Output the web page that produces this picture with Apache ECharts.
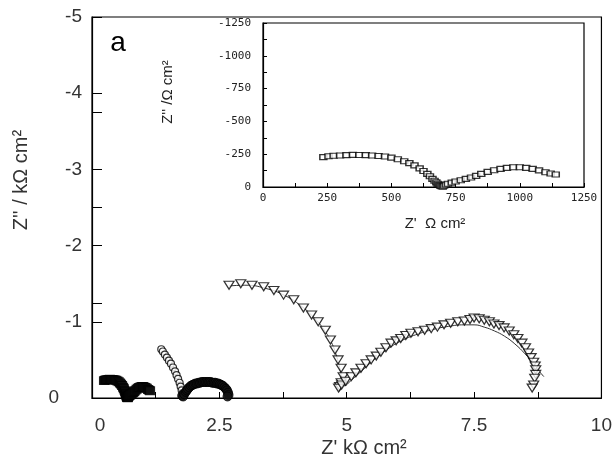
<!DOCTYPE html>
<html>
<head>
<meta charset="utf-8">
<script src="https://cdn.jsdelivr.net/npm/echarts@6/dist/echarts.min.js"></script>
<style>
  html, body { margin: 0; padding: 0; background: #fff; }
  #chart { width: 615px; height: 466px; }
</style>
</head>
<body>
<div id="chart"></div>
<script>
// inset data, Ohm cm2 (open squares) - same run is drawn in kOhm on the main plot
const sqX = [235, 255, 275, 300, 325, 350, 375, 400, 425, 450, 475, 500, 525, 550, 570, 590, 610, 625, 640, 650, 660, 668, 675, 680, 685, 690, 695, 700,
  705, 712, 720, 735, 750, 770, 790, 810, 830, 850, 875, 900, 925, 950, 975, 1000, 1025, 1050, 1075, 1100, 1120, 1140];
const sqY = [-228, -234, -238, -240, -243, -245, -244, -243, -240, -236, -232, -224, -212, -196, -182, -165, -142, -122, -100, -82, -62, -48, -35, -25, -16, -10, -6, -3,
  -10, -18, -25, -33, -42, -52, -62, -72, -85, -100, -115, -128, -138, -146, -150, -150, -146, -138, -127, -112, -103, -95];

// open circles, kOhm cm2: steep high-frequency tail, then the dense low arc
const circArcX = [1.36, 1.39, 1.43, 1.47, 1.51, 1.55, 1.59, 1.63, 1.66, 1.69, 1.72, 1.74, 1.76, 1.78];
const circArcY = [-0.64, -0.61, -0.57, -0.53, -0.49, -0.45, -0.40, -0.35, -0.30, -0.25, -0.20, -0.15, -0.10, -0.06];
const circLowX = [1.77, 1.79, 1.81, 1.84, 1.86, 1.88, 1.91, 1.94, 1.97, 2.00, 2.03, 2.06, 2.09, 2.12, 2.15, 2.18, 2.21, 2.24, 2.27, 2.30, 2.33, 2.36, 2.39, 2.42, 2.45, 2.48, 2.51, 2.54, 2.57, 2.60, 2.63, 2.65, 2.67, 2.68, 2.66];
const circLowY = [-0.03, -0.02, -0.05, -0.08, -0.10, -0.12, -0.14, -0.16, -0.17, -0.18, -0.19, -0.19, -0.20, -0.20, -0.21, -0.21, -0.21, -0.21, -0.21, -0.21, -0.21, -0.20, -0.20, -0.20, -0.19, -0.19, -0.18, -0.17, -0.16, -0.14, -0.12, -0.10, -0.07, -0.04, -0.02];

// open down triangles, kOhm cm2
const triX = [2.69, 2.92, 3.14, 3.37, 3.57, 3.76, 3.96, 4.15, 4.31, 4.44, 4.58, 4.68, 4.77, 4.83, 4.89, 4.93, 4.89, 4.86, 4.84, 4.90, 4.98, 5.09, 5.18, 5.28, 5.38, 5.48, 5.58, 5.67, 5.77, 5.87, 5.97, 6.06, 6.16, 6.26, 6.40, 6.53, 6.66, 6.78, 6.91, 7.04, 7.18, 7.31, 7.42, 7.50, 7.60, 7.70, 7.80, 7.89, 7.99, 8.09, 8.19, 8.28, 8.36, 8.44, 8.51, 8.57, 8.62, 8.67, 8.70, 8.71, 8.71, 8.69, 8.67, 8.64];
const triY = [-1.48, -1.50, -1.48, -1.46, -1.41, -1.35, -1.29, -1.18, -1.09, -1.00, -0.89, -0.76, -0.63, -0.50, -0.39, -0.28, -0.20, -0.15, -0.13, -0.17, -0.22, -0.28, -0.33, -0.39, -0.45, -0.50, -0.55, -0.60, -0.66, -0.72, -0.75, -0.78, -0.82, -0.85, -0.87, -0.89, -0.91, -0.93, -0.96, -0.98, -1.00, -1.01, -1.03, -1.05, -1.04, -1.02, -1.00, -0.97, -0.95, -0.92, -0.88, -0.83, -0.78, -0.72, -0.66, -0.59, -0.53, -0.47, -0.42, -0.37, -0.31, -0.26, -0.17, -0.13];

// fitted curve through the triangles
const fitX = [2.69, 3.0, 3.4, 3.8, 4.1, 4.35, 4.55, 4.7, 4.8, 4.86, 4.9, 4.95, 5.1, 5.3, 5.5, 5.8, 6.1, 6.4, 6.7, 7.0, 7.3, 7.5, 7.7, 7.9, 8.1, 8.3, 8.5, 8.65, 8.78, 8.87];
const fitY = [-1.47, -1.48, -1.44, -1.34, -1.21, -1.06, -0.90, -0.73, -0.55, -0.40, -0.27, -0.16, -0.24, -0.36, -0.48, -0.64, -0.76, -0.84, -0.90, -0.94, -0.96, -0.96, -0.93, -0.88, -0.81, -0.71, -0.58, -0.46, -0.35, -0.28];

const zip = (xs, ys, k) => xs.map((x, i) => [x * (k || 1), ys[i] * (k || 1)]);

const chart = echarts.init(document.getElementById("chart"));

const mainFont = "'Liberation Sans', Arial, sans-serif";
const insetFont = "'DejaVu Sans Mono', monospace";

chart.setOption({
  animation: false,
  backgroundColor: "#fff",
  grid: [
    { left: 92, top: 17, right: 10, bottom: 68, show: true, borderColor: "#000", borderWidth: 1.2, backgroundColor: "transparent" },
    { left: 263, top: 23, right: 31, bottom: 279, show: true, borderColor: "#000", borderWidth: 1.2, backgroundColor: "#fff" },
  ],
  xAxis: [
    {
      gridIndex: 0,
      type: "value",
      min: 0,
      max: 10,
      interval: 2.5,
      axisLine: { lineStyle: { color: "#000", width: 1.2 } },
      axisTick: { inside: true, length: 6, lineStyle: { color: "#000" } },
      minorTick: { show: true, splitNumber: 2, length: 6, lineStyle: { color: "#000" } },
      splitLine: { show: false },
      axisLabel: {
        margin: 18,
        color: "#333",
        fontSize: 19,
        fontFamily: mainFont,
        formatter: (v) => (v === 0 ? "{z|0}" : String(v)),
        rich: { z: { padding: [0, 0, 0, 16], fontSize: 19, fontFamily: mainFont, color: "#333" } },
      },
    },
    {
      gridIndex: 1,
      type: "value",
      min: 0,
      max: 1250,
      interval: 250,
      axisLine: { lineStyle: { color: "#000", width: 1.2 } },
      axisTick: { inside: true, length: 4, lineStyle: { color: "#000" } },
      minorTick: { show: true, splitNumber: 2, length: 4, lineStyle: { color: "#000" } },
      splitLine: { show: false },
      axisLabel: { margin: 6, color: "#222", fontSize: 11, fontFamily: insetFont, formatter: (v) => String(v) },
    },
  ],
  yAxis: [
    {
      gridIndex: 0,
      type: "value",
      inverse: true,
      min: -5,
      max: 0,
      interval: 1,
      axisLine: { lineStyle: { color: "#000", width: 1.2 } },
      axisTick: { inside: true, length: 10, lineStyle: { color: "#000" } },
      splitLine: { show: false },
      axisLabel: {
        margin: 10,
        color: "#333",
        fontSize: 19,
        fontFamily: mainFont,
        formatter: (v) => (v === 0 ? "{z|0}" : String(v)),
        rich: { z: { padding: [0, 23, 0, 0], fontSize: 19, fontFamily: mainFont, color: "#333" } },
      },
    },
    {
      // extra tick marks every 1.25
      gridIndex: 0,
      type: "value",
      position: "left",
      inverse: true,
      min: -5,
      max: 0,
      interval: 1.25,
      axisLine: { show: false },
      axisTick: { inside: true, length: 10, lineStyle: { color: "#000" } },
      axisLabel: { show: false },
      splitLine: { show: false },
    },
    {
      gridIndex: 1,
      type: "value",
      inverse: true,
      min: -1250,
      max: 0,
      interval: 250,
      axisLine: { lineStyle: { color: "#000", width: 1.2 } },
      axisTick: { inside: true, length: 4, lineStyle: { color: "#000" } },
      minorTick: { show: true, splitNumber: 2, length: 4, lineStyle: { color: "#000" } },
      splitLine: { show: false },
      axisLabel: { margin: 12, color: "#222", fontSize: 11, fontFamily: insetFont, formatter: (v) => String(v) },
    },
  ],
  graphic: [
    { type: "text", x: 118, y: 43, style: { text: "a", font: "28px " + mainFont, fill: "#000", align: "center", verticalAlign: "middle" } },
    { type: "text", x: 364, y: 448, style: { text: "Z' kΩ cm²", font: "20px " + mainFont, fill: "#333", align: "center", verticalAlign: "middle" } },
    { type: "text", x: 21, y: 180, rotation: Math.PI / 2, style: { text: "Z'' / kΩ cm²", font: "20px " + mainFont, fill: "#333", align: "center", verticalAlign: "middle" } },
    { type: "text", x: 435, y: 224, style: { text: "Z'  Ω cm²", font: "15px " + mainFont, fill: "#222", align: "center", verticalAlign: "middle" } },
    { type: "text", x: 168, y: 92, rotation: Math.PI / 2, style: { text: "Z'' /Ω cm²", font: "15px " + mainFont, fill: "#222", align: "center", verticalAlign: "middle" } },
  ],
  series: [
    {
      // main-plot copy of the inset run; so dense it prints as a black band
      type: "scatter",
      xAxisIndex: 0,
      yAxisIndex: 0,
      data: zip(sqX, sqY, 0.001),
      symbol: "rect",
      symbolSize: [9, 8],
      itemStyle: { color: "#111", borderColor: "#000", borderWidth: 1 },
    },
    {
      type: "scatter",
      xAxisIndex: 0,
      yAxisIndex: 0,
      data: zip(circArcX, circArcY),
      symbol: "circle",
      symbolSize: 7,
      itemStyle: { color: "#fff", borderColor: "#000", borderWidth: 1.2 },
    },
    {
      type: "scatter",
      xAxisIndex: 0,
      yAxisIndex: 0,
      data: zip(circLowX, circLowY),
      symbol: "circle",
      symbolSize: 9,
      itemStyle: { color: "#111", borderColor: "#000", borderWidth: 1 },
    },
    {
      type: "line",
      xAxisIndex: 0,
      yAxisIndex: 0,
      data: zip(fitX, fitY),
      smooth: true,
      showSymbol: false,
      lineStyle: { color: "#333", width: 1 },
      z: 1,
    },
    {
      type: "scatter",
      xAxisIndex: 0,
      yAxisIndex: 0,
      data: zip(triX, triY),
      symbol: "triangle",
      symbolRotate: 180,
      symbolSize: [10, 8],
      itemStyle: { color: "#fff", borderColor: "#000", borderWidth: 1.2 },
    },
    {
      type: "scatter",
      xAxisIndex: 1,
      yAxisIndex: 2,
      data: zip(sqX, sqY),
      symbol: "rect",
      symbolSize: [7, 5],
      itemStyle: { color: "#fff", borderColor: "#000", borderWidth: 1.3 },
    },
  ],
});
</script>
</body>
</html>
